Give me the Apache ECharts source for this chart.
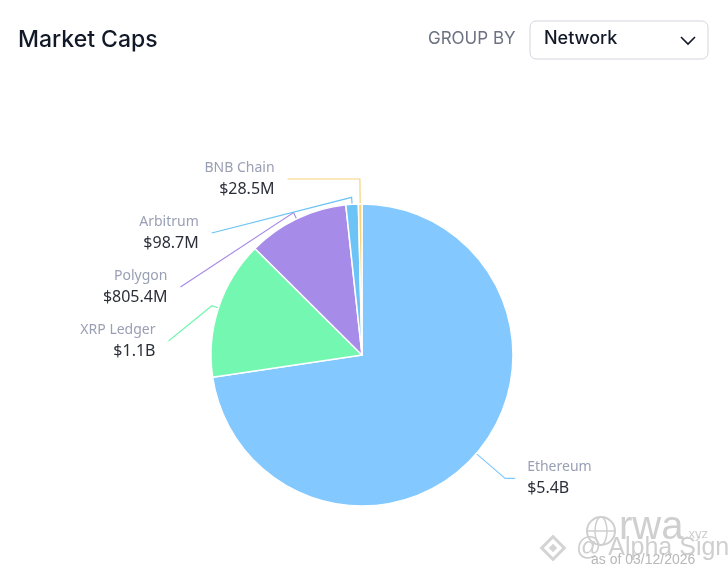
<!DOCTYPE html>
<html><head><meta charset="utf-8">
<script src="https://cdn.jsdelivr.net/npm/echarts@6/dist/echarts.min.js"></script>
<style>html,body{margin:0;padding:0;background:#fff}#c{width:728px;height:574px}</style>
</head><body><div id="c"></div>
<script>
const categories = ['Ethereum', 'XRP Ledger', 'Polygon', 'Arbitrum', 'BNB Chain'];
const values = [5400, 1100, 805.4, 98.7, 28.5]; // millions USD
const valueLabels = ['$5.4B', '$1.1B', '$805.4M', '$98.7M', '$28.5M'];
const colors = ['#83c9ff', '#74f7b1', '#a78be8', '#6cc4f6', '#f7d27c'];

const CX = 362, CY = 355, RADIUS = 151;
const total = values.reduce((a, b) => a + b, 0);
const midAngles = [];
{ let acc = 0; values.forEach(v => { midAngles.push((acc + v / 2) / total * 2 * Math.PI); acc += v; }); }

const chart = echarts.init(document.getElementById('c'));
const data = categories.map((n, i) => ({ name: n, value: values[i], itemStyle: { color: colors[i] }, labelLine: { lineStyle: { color: colors[i] } } }));
chart.setOption({
  animation: false,
  graphic: [
    { type: 'text', left: 18, top: 29, style: { text: 'Market Caps', font: '500 23px Inter, sans-serif', fill: '#111827' } },
    { type: 'text', left: 428, top: 30, style: { text: 'GROUP BY', font: '17px Inter, sans-serif', fill: '#6b7280' } },
    { type: 'rect', shape: { x: 530, y: 21, width: 178, height: 38, r: 6 }, style: { fill: '#fff', stroke: '#d1d5db', lineWidth: 1 } },
    { type: 'text', left: 544, top: 30, style: { text: 'Network', font: '500 18px Inter, sans-serif', fill: '#111827' } },
    { type: 'polyline', shape: { points: [[681, 37], [688, 44], [695, 37]] }, style: { stroke: '#111827', lineWidth: 1.6, fill: null } },
    { type: 'circle', shape: { cx: 601, cy: 531, r: 14 }, style: { fill: null, stroke: '#cfcfcf', lineWidth: 2 } },
    { type: 'ellipse', shape: { cx: 601, cy: 531, rx: 6, ry: 14 }, style: { fill: null, stroke: '#cfcfcf', lineWidth: 1.5 } },
    { type: 'line', shape: { x1: 587, y1: 531, x2: 615, y2: 531 }, style: { stroke: '#cfcfcf', lineWidth: 1.5 } },
    { type: 'text', left: 619, top: 508, style: { text: 'rwa', font: '40px Arial, sans-serif', fill: '#cfcfcf' } },
    { type: 'text', left: 685, top: 528, style: { text: '.xyz', font: '13px Arial, sans-serif', fill: '#cfcfcf' } },
    { type: 'rect', rotation: Math.PI / 4, x: 553, y: 548, shape: { x: -8, y: -8, width: 16, height: 16 }, style: { fill: null, stroke: '#d4d4d4', lineWidth: 3 } },
    { type: 'rect', rotation: Math.PI / 4, x: 553, y: 548, shape: { x: -3, y: -3, width: 6, height: 6 }, style: { fill: '#d4d4d4' } },
    { type: 'text', left: 576, top: 536, style: { text: '@ Alpha Sign', font: '25px Arial, sans-serif', fill: '#cfcfcf' } },
    { type: 'text', left: 591, top: 553, style: { text: 'as of 03/12/2026', font: '14px Arial, sans-serif', fill: '#b8b8b8' } }
  ],
  series: [{
    type: 'pie',
    center: [CX, CY],
    radius: [0, RADIUS],
    startAngle: 90,
    clockwise: true,
    avoidLabelOverlap: true,
    itemStyle: { borderColor: '#fff', borderWidth: 1.5 },
    data: data,
    label: {
      distanceToLabelLine: 12,
      formatter: p => '{s|}\n{n|' + p.name + '}\n{v|' + valueLabels[p.dataIndex] + '}\n{s|}',
      rich: {
        s: { fontSize: 1, lineHeight: 9 },
        n: { fontSize: 14, color: '#9aa0b4', fontFamily: 'Noto Sans, sans-serif', lineHeight: 20 },
        v: { fontSize: 16, color: '#2b2f3a', fontFamily: 'Noto Sans, sans-serif', lineHeight: 22 }
      }
    },
    labelLine: { length: 38, length2: 10, lineStyle: { width: 1.2 } },
    labelLayout: p => {
      const r = p.labelRect;
      if (r.x + r.width / 2 > CX) return {};
      const yc = r.y + r.height / 2 + 13;
      const dyc = yc - CY;
      const R = RADIUS + 41;
      const gap = 15 - Math.max(0, -dyc - 150) / 6;
      const xr = CX - Math.sqrt(Math.max(R * R - dyc * dyc, 0)) - gap;
      const a = midAngles[p.dataIndex];
      const ux = Math.sin(a), uy = -Math.cos(a);
      const p0 = [CX + ux * RADIUS, CY + uy * RADIUS];
      let p1 = [CX + ux * (RADIUS + 7), CY + uy * (RADIUS + 7)];
      const p2 = [xr + 13, yc];
      if (p2[1] < p1[1] && uy < 0) { const t = (p2[1] - CY) / uy; p1 = [CX + ux * t, p2[1]]; }
      return { x: xr, y: yc, align: 'right', verticalAlign: 'middle', labelLinePoints: [p0, p1, p2] };
    }
  }]
});
</script></body></html>
